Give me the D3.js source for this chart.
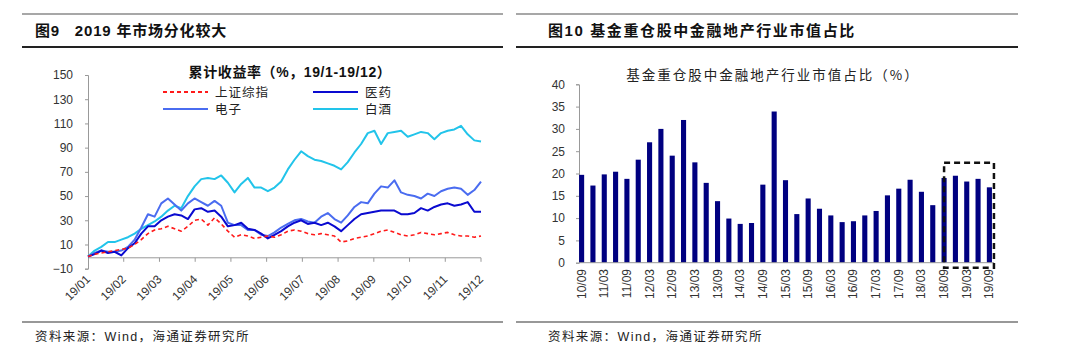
<!DOCTYPE html>
<html>
<head>
<meta charset="utf-8">
<script src="https://cdn.jsdelivr.net/npm/d3@7"></script>
<style>
  body { margin: 0; background: #fff; }
  svg { font-family: "Liberation Sans", Arial, "Noto Sans CJK SC", sans-serif; }
</style>
</head>
<body>
<script>
// *************************************************** //
// chart data
// left chart: cumulative return 2019, ~60 samples across the year
var months = ["19/01", "19/02", "19/03", "19/04", "19/05", "19/06", "19/07", "19/08", "19/09", "19/10", "19/11", "19/12"];
var seriesNames = ["上证综指", "医药", "电子", "白酒"];
var shIndex = [0, 2, 3, 4, 5, 6, 7, 10, 14, 19, 22, 23, 25, 23, 21, 25, 30, 31, 26, 32,
               27, 21, 16, 18, 17, 15, 16, 17, 16, 18, 21, 22, 21, 19, 18, 19, 18, 17, 12, 13,
               15, 16, 17, 19, 21, 22, 20, 18, 17, 18, 20, 19, 18, 19, 20, 18, 17, 17, 16, 17];
var pharma = [0, 2, 5, 3, 4, 1, 7, 11, 19, 25, 25, 30, 33, 35, 34, 31, 39, 40, 37, 38,
              33, 25, 26, 28, 23, 22, 19, 15, 18, 21, 25, 28, 30, 27, 28, 26, 28, 25, 21, 26,
              31, 35, 36, 37, 38, 38, 38, 35, 35, 36, 40, 38, 41, 43, 44, 42, 43, 45, 37, 37];
var electronics = [0, 3, 5, 4, 4, 5, 8, 14, 24, 35, 33, 44, 48, 43, 38, 44, 48, 45, 42, 46,
                   42, 28, 26, 26, 22, 22, 18, 17, 20, 24, 27, 30, 31, 29, 28, 33, 36, 31, 28, 34,
                   41, 45, 44, 52, 58, 57, 63, 53, 51, 50, 48, 52, 50, 54, 56, 57, 56, 51, 55, 62];
var liquor = [0, 5, 8, 12, 12, 14, 16, 19, 23, 26, 29, 33, 38, 42, 40, 50, 58, 64, 65, 64,
              67, 61, 53, 60, 65, 57, 57, 54, 57, 62, 72, 80, 87, 83, 80, 79, 77, 75, 72, 78,
              86, 93, 102, 104, 93, 102, 103, 104, 99, 101, 103, 102, 97, 102, 104, 105, 108, 101, 96, 95];
var lineYTicks = [-10, 10, 30, 50, 70, 90, 110, 130, 150];

// right chart: quarterly share of financials & real estate in funds' top holdings (%)
var quarters = ["10/09", "10/12", "11/03", "11/06", "11/09", "11/12", "12/03", "12/06", "12/09", "12/12",
                "13/03", "13/06", "13/09", "13/12", "14/03", "14/06", "14/09", "14/12", "15/03", "15/06",
                "15/09", "15/12", "16/03", "16/06", "16/09", "16/12", "17/03", "17/06", "17/09", "17/12",
                "18/03", "18/06", "18/09", "18/12", "19/03", "19/06", "19/09"];
var finShare = [19.7, 17.3, 19.8, 20.4, 18.8, 23.1, 27.0, 30.0, 24.0, 32.0,
                22.5, 17.9, 13.8, 9.9, 8.7, 8.9, 17.5, 33.9, 18.5, 10.9,
                14.4, 12.1, 10.6, 9.1, 9.3, 10.6, 11.6, 15.1, 16.6, 18.6,
                15.9, 12.9, 19.0, 19.5, 18.2, 18.8, 16.9];
var barYTicks = [0, 5, 10, 15, 20, 25, 30, 35, 40];

// *************************************************** //
window.onload = drawPage();

function drawPage(){
  var svg = d3.select("body")
    .append("svg")
    .attr("width", 1080)
    .attr("height", 360);

  // panel frames: rules, titles and sources
  drawFrame(svg, 22, 503, 35, "图9   2019 年市场分化较大", "0.8px");
  drawFrame(svg, 516, 1018, 548, "图10 基金重仓股中金融地产行业市值占比", "1.6px");

  drawLineChart(svg);
  drawBarChart(svg);
}

// *************************************************** //
function drawFrame(svg, x0, x1, textX, title, spacing){
  svg.append("line")
    .attr("x1", x0).attr("x2", x1)
    .attr("y1", 14).attr("y2", 14)
    .attr("stroke", "#8a8a8a").attr("stroke-width", 1.5);
  svg.append("line")
    .attr("x1", x0).attr("x2", x1)
    .attr("y1", 47).attr("y2", 47)
    .attr("stroke", "#222").attr("stroke-width", 2);
  svg.append("line")
    .attr("x1", x0).attr("x2", x1)
    .attr("y1", 322).attr("y2", 322)
    .attr("stroke", "#333").attr("stroke-width", 1.2);

  svg.append("text")
    .attr("x", textX).attr("y", 36)
    .attr("font-size", 15).attr("font-weight", "bold")
    .attr("fill", "#111")
    .style("font-family", "'Liberation Sans', 'Noto Sans CJK SC', sans-serif")
    .style("letter-spacing", spacing)
    .style("white-space", "pre")
    .text(title);

  svg.append("text")
    .attr("x", textX).attr("y", 341)
    .attr("font-size", 12.5).attr("fill", "#222")
    .style("font-family", "'Liberation Sans', 'Noto Sans CJK SC', sans-serif")
    .style("letter-spacing", "1.4px")
    .text("资料来源：Wind，海通证券研究所");
}

// *************************************************** //
function drawLineChart(svg){
  var x = d3.scaleLinear()
    .domain([0, shIndex.length - 1])
    .range([88, 481]);
  var y = d3.scaleLinear()
    .domain([-10, 150])
    .range([268.7, 75]);

  var g = svg.append("g");

  // y axis
  var yAxis = g.append("g")
    .attr("transform", "translate(88,0)")
    .call(d3.axisLeft(y).tickValues(lineYTicks).tickSize(3).tickPadding(12));
  yAxis.select(".domain").attr("stroke", "#999");
  yAxis.selectAll(".tick line").attr("stroke", "#999");
  yAxis.selectAll("text").attr("font-size", 12).attr("fill", "#333")
    .style("font-family", "'Liberation Sans', Arial, sans-serif");

  // x axis along the zero line, month ticks
  var monthPos = months.map(function(m, i){
    return x(i * (shIndex.length - 1) / (months.length - 1));
  });
  g.append("line")
    .attr("x1", 88).attr("x2", 481)
    .attr("y1", y(-1)).attr("y2", y(-1))
    .attr("stroke", "#999");
  g.selectAll(".mtick")
    .data(monthPos.slice(1))
    .enter()
    .append("line")
    .attr("class", "mtick")
    .attr("x1", function(d){ return d; })
    .attr("x2", function(d){ return d; })
    .attr("y1", y(-1)).attr("y2", y(-1) + 4)
    .attr("stroke", "#999");
  g.selectAll(".mlabel")
    .data(months)
    .enter()
    .append("text")
    .attr("class", "mlabel")
    .attr("transform", function(d, i){
      return "translate(" + (monthPos[i] + 3) + ",280) rotate(-45)";
    })
    .attr("text-anchor", "end")
    .attr("font-size", 12).attr("fill", "#333")
    .style("font-family", "'Liberation Sans', Arial, sans-serif")
    .text(function(d){ return d; });

  // lines
  var specs = [
    { data: liquor, color: "#22c4ea", dash: null, width: 2 },
    { data: electronics, color: "#4a6cf0", dash: null, width: 2 },
    { data: pharma, color: "#0a0ad0", dash: null, width: 2 },
    { data: shIndex, color: "#ff1a1a", dash: "4,3", width: 1.6 }
  ];
  var line = d3.line()
    .x(function(d, i){ return x(i); })
    .y(function(d){ return y(d); });
  specs.forEach(function(s){
    g.append("path")
      .datum(s.data)
      .attr("fill", "none")
      .attr("stroke", s.color)
      .attr("stroke-width", s.width)
      .attr("stroke-dasharray", s.dash)
      .attr("stroke-linejoin", "round")
      .attr("d", line);
  });

  // chart title
  g.append("text")
    .attr("x", 290).attr("y", 77)
    .attr("text-anchor", "middle")
    .attr("font-size", 14).attr("font-weight", "bold").attr("fill", "#111")
    .style("font-family", "'Liberation Sans', 'Noto Sans CJK SC', sans-serif")
    .style("letter-spacing", "0.6px")
    .text("累计收益率（%，19/1-19/12）");

  // legend
  var legend = [
    { name: seriesNames[0], color: "#ff1a1a", dash: "4,3", x: 163, y: 92 },
    { name: seriesNames[1], color: "#0a0ad0", dash: null, x: 313, y: 92 },
    { name: seriesNames[2], color: "#4a6cf0", dash: null, x: 163, y: 109 },
    { name: seriesNames[3], color: "#22c4ea", dash: null, x: 313, y: 109 }
  ];
  legend.forEach(function(l){
    g.append("line")
      .attr("x1", l.x).attr("x2", l.x + 45)
      .attr("y1", l.y).attr("y2", l.y)
      .attr("stroke", l.color).attr("stroke-width", 2)
      .attr("stroke-dasharray", l.dash);
    g.append("text")
      .attr("x", l.x + 52).attr("y", l.y + 4.5)
      .attr("font-size", 12.5).attr("fill", "#222")
      .style("font-family", "'Noto Sans CJK SC', sans-serif")
      .style("letter-spacing", "1px")
      .text(l.name);
  });
}

// *************************************************** //
function drawBarChart(svg){
  var x = d3.scaleBand()
    .domain(quarters)
    .range([576, 995])
    .paddingInner(0.55)
    .paddingOuter(0.27);
  var y = d3.scaleLinear()
    .domain([0, 40])
    .range([262.7, 84.3]);

  var g = svg.append("g");

  // y axis
  var yAxis = g.append("g")
    .attr("transform", "translate(579,0)")
    .call(d3.axisLeft(y).tickValues(barYTicks).tickSize(3).tickPadding(11));
  yAxis.select(".domain").attr("stroke", "#999");
  yAxis.selectAll(".tick line").attr("stroke", "#999");
  yAxis.selectAll("text").attr("font-size", 12).attr("fill", "#333")
    .style("font-family", "'Liberation Sans', Arial, sans-serif");

  // bars
  g.selectAll(".bar")
    .data(finShare)
    .enter()
    .append("rect")
    .attr("class", "bar")
    .attr("x", function(d, i){ return x(quarters[i]); })
    .attr("y", function(d){ return y(d); })
    .attr("width", x.bandwidth())
    .attr("height", function(d){ return y(0) - y(d); })
    .attr("fill", "#000080");

  // x axis
  g.append("line")
    .attr("x1", 579).attr("x2", 994)
    .attr("y1", y(0)).attr("y2", y(0))
    .attr("stroke", "#999");
  g.selectAll(".qlabel")
    .data(quarters.filter(function(d, i){ return i % 2 == 0; }))
    .enter()
    .append("text")
    .attr("class", "qlabel")
    .attr("transform", function(d){
      return "translate(" + (x(d) + x.bandwidth() / 2 + 4) + ",269) rotate(-90)";
    })
    .attr("text-anchor", "end")
    .attr("font-size", 12).attr("fill", "#333")
    .style("font-family", "'Liberation Sans', Arial, sans-serif")
    .text(function(d){ return d; });

  // chart title
  g.append("text")
    .attr("x", 773).attr("y", 80)
    .attr("text-anchor", "middle")
    .attr("font-size", 13.5).attr("fill", "#222")
    .style("font-family", "'Noto Sans CJK SC', sans-serif")
    .style("letter-spacing", "2px")
    .text("基金重仓股中金融地产行业市值占比（%）");

  // dashed highlight box around the last five quarters
  var bx0 = x(quarters[32]) + x.bandwidth() / 2,
      bx1 = x(quarters[36]) + x.bandwidth() + 2;
  g.append("rect")
    .attr("x", bx0).attr("y", y(22.4))
    .attr("width", bx1 - bx0)
    .attr("height", y(0) + 5 - y(22.4))
    .attr("fill", "none")
    .attr("stroke", "#111")
    .attr("stroke-width", 2.5)
    .attr("stroke-dasharray", "6,4");
}
</script>
</body>
</html>
